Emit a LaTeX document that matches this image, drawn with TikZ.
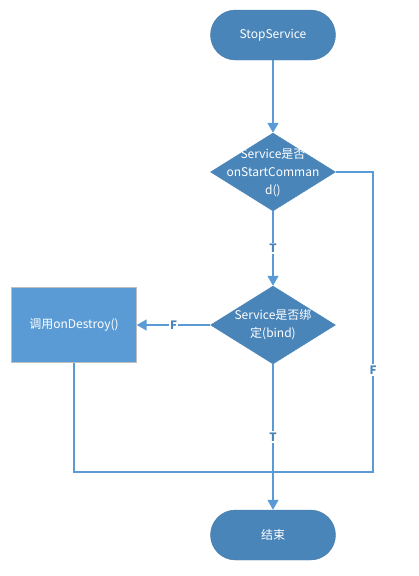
\documentclass[tikz,border=0pt]{standalone}
\usepackage{fontspec}
\setmainfont{Noto Sans CJK SC}
\usetikzlibrary{shapes.geometric,arrows.meta}

\definecolor{nodeblue}{HTML}{4A85BA}
\definecolor{boxblue}{HTML}{5B9BD5}
\definecolor{lineblue}{HTML}{5B9BD5}
\definecolor{labelblue}{HTML}{4A85BA}

\tikzset{
    terminal/.style={draw=nodeblue!90!black, fill=nodeblue, rounded corners=25pt,
        minimum width=125pt, minimum height=50pt, text=white, font=\fontsize{12}{14}\selectfont},
    decision/.style={draw=nodeblue, fill=nodeblue, diamond, inner sep=0pt,
        minimum width=125pt, minimum height=78pt},
    dtext/.style={text=white, align=center, font=\fontsize{12}{18}\selectfont},
    process/.style={draw=gray!50, fill=boxblue, minimum width=125pt, minimum height=75pt,
        text=white, font=\fontsize{12}{14}\selectfont},
    line/.style={draw=lineblue, line width=1.6pt},
    flow/.style={line, -{Triangle[width=11pt, length=10pt]}},
    lbl/.style={fill=white, text=labelblue, inner sep=1.5pt, font=\fontsize{11.5}{13}\selectfont\bfseries}
}

\begin{document}
\begin{tikzpicture}[x=1pt, y=-1pt]
    \useasboundingbox (0,0) rectangle (419,576);

    % start and end
    \node[terminal] (start) at (273,35) {StopService};
    \node[terminal] (stop) at (273,535) {结束};

    % decisions
    \node[decision] (q1) at (273,172) {};
    \node[dtext] (q1text) at (273,173) {Service是否\\onStartComman\\d()};
    \node[decision] (q2) at (273,325) {};
    \node[dtext] (q2text) at (273,325) {Service是否绑\\定(bind)};

    % onDestroy box
    \node[process] (destroy) at (74,325) {调用onDestroy()};

    % joining points
    \coordinate (merge) at (273,472);
    \coordinate (rcorner) at (373,472);

    % connectors
    \draw[flow] (start) -- (q1);
    \draw[flow] (q1) -- node[lbl] {T} (q2);
    \draw[flow] (q2) -- node[lbl] {F} (destroy);
    \draw[line] (q1.east) -| node[lbl, pos=0.83] {F} (rcorner) -- (merge);
    \draw[line] (destroy) |- (merge);
    \draw[flow] (q2) -- node[lbl] {T} (stop);

\end{tikzpicture}
\end{document}
